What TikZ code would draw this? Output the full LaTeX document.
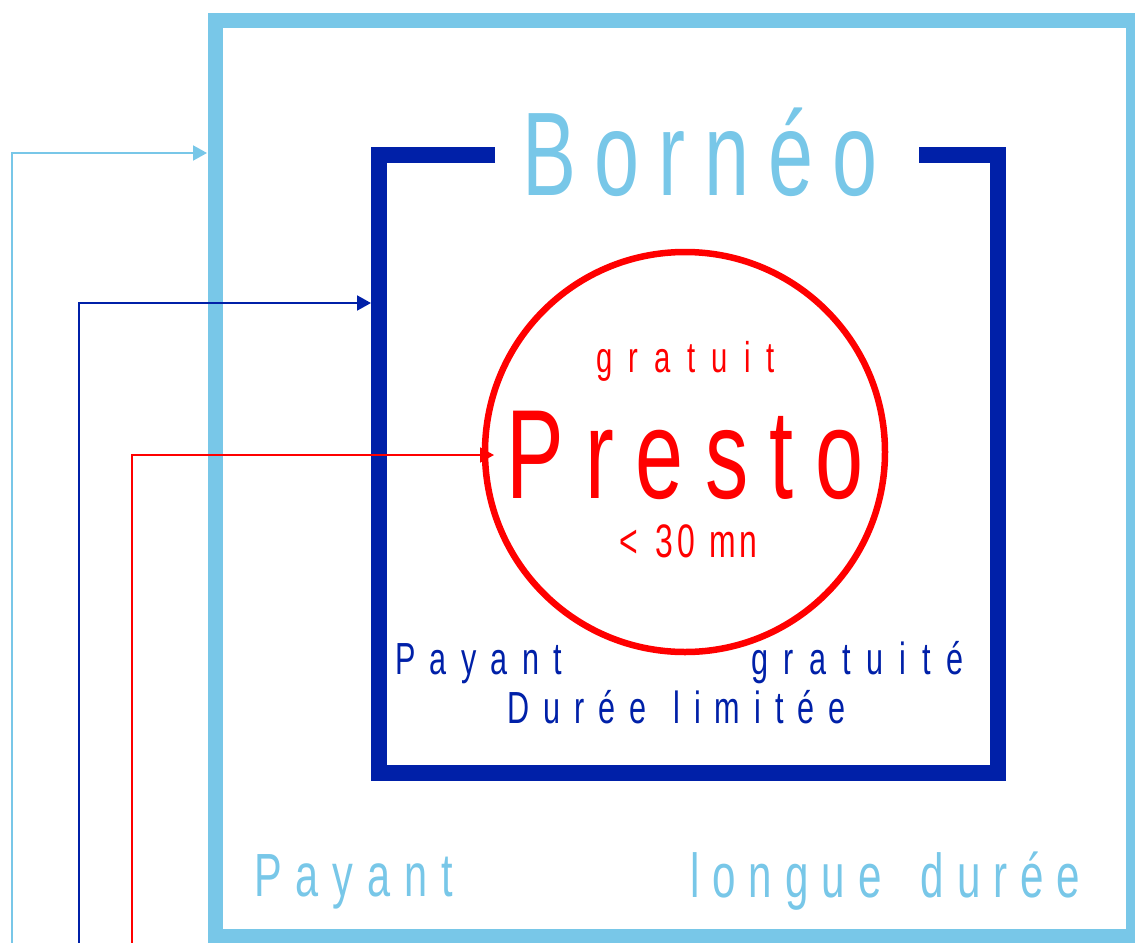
\documentclass[tikz,border=0pt]{standalone}
\usepackage{fontspec}
\usetikzlibrary{arrows.meta}
\newfontfamily\cond[FakeStretch=0.68]{Liberation Sans}
\definecolor{lblue}{HTML}{78C7E8}
\definecolor{dblue}{HTML}{0020A8}
\definecolor{pred}{HTML}{FF0000}
\newcommand{\condfont}[1]{\cond\fontsize{#1bp}{#1bp}\selectfont}
\ExplSyntaxOn
\NewDocumentCommand\spc{mm}{ \tl_map_inline:nn {#2} { ##1 \kern #1 } }
\ExplSyntaxOff
\begin{document}
\begin{tikzpicture}[x=1bp,y=-1bp,
  lbl/.style={inner sep=0pt,outer sep=0pt,anchor=base west},
  link/.style={line width=2bp,-{Triangle[length=14bp,width=15bp]}}]
\useasboundingbox (0,0) rectangle (1135,943);
% outer frame
\draw[lblue,line width=15bp] (215,20) rectangle (1133,936);
\coordinate (frameL) at (207,153);
% bracket
\draw[dblue,line width=16bp] (495,155) -- (379,155) -- (379,773) -- (998,773) -- (998,155) -- (919,155);
\coordinate (brL) at (371,303);
% circle
\node[draw=pred,line width=6.5bp,circle,minimum size=400bp,inner sep=0pt] (presto) at (685,452) {};
\coordinate (ciL) at (494,455);
% texts
\node[lbl,text=lblue] (borneo) at (522,195) {\condfont{119}\spc{19bp}{Bornéo}};
\node[lbl,text=pred] (grat) at (596,372) {\condfont{43}\spc{16.3bp}{gratuit}};
\node[lbl,text=pred,text depth=0pt] (prestot) at (506,498) {\condfont{127}\spc{21.6bp}{Presto}};
\node[lbl,text=pred] (trente) at (619,557) {\condfont{47}\spc{4bp}{<}\kern14bp\spc{4bp}{30}\kern10bp\spc{4bp}{mn}};
\node[lbl,text=dblue] (pay1) at (395,674) {\condfont{45}\spc{14.4bp}{Payant}};
\node[lbl,text=dblue] (grat2) at (751,674) {\condfont{45}\spc{15.75bp}{gratuité}};
\node[lbl,text=dblue] (duree) at (507,723) {\condfont{45}\spc{14bp}{Durée}\kern13bp\spc{14bp}{limitée}};
\node[lbl,text=lblue] (pay2) at (254,896) {\condfont{61}\spc{14bp}{Payant}};
\node[lbl,text=lblue] (longue) at (690,897) {\condfont{62}\spc{13bp}{longue}\kern26bp\spc{13bp}{durée}};
% connectors
\coordinate (s1) at (12,943);
\coordinate (s2) at (79,943);
\coordinate (s3) at (132,943);
\draw[link,lblue] (s1) |- (frameL);
\draw[link,dblue] (s2) |- (brL);
\draw[link,pred] (s3) |- (ciL);
\end{tikzpicture}
\end{document}
